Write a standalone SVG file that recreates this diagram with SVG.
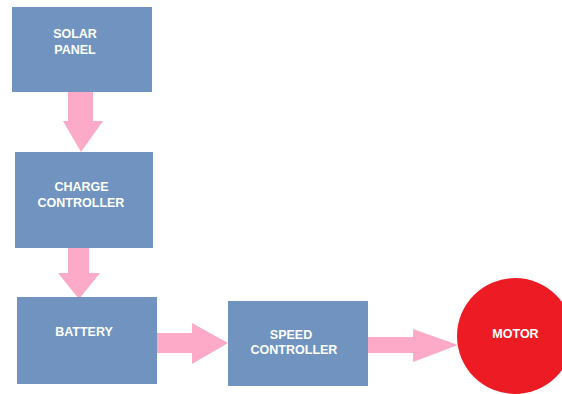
<svg xmlns="http://www.w3.org/2000/svg" width="562" height="394" viewBox="0 0 562 394">
<style>
.box{fill:#7093bf;}
.arr{fill:#fdaac8;}
.t{font-family:"Liberation Sans",Arial,sans-serif;font-weight:bold;font-size:12.5px;fill:#ffffff;text-anchor:middle;}
</style>
<rect width="562" height="394" fill="#ffffff"/>
<g id="connectors">
<polygon class="arr" points="68,92 93,92 93,121 103,121 81,152 63,121 68,121"/>
<polygon class="arr" points="68,248 89,248 89,273 100,273 79,299 58,273 68,273"/>
<polygon class="arr" points="157,333 192,333 192,323 228,343 192,364 192,353 157,353"/>
<polygon class="arr" points="368,337 413,337 413,329 458,345 413,362 413,353 368,353"/>
</g>
<g id="solar-panel">
<rect class="box" x="12" y="7" width="140" height="85"/>
<text class="t" x="75" y="38">SOLAR</text>
<text class="t" x="75" y="54">PANEL</text>
</g>
<g id="charge-controller">
<rect class="box" x="15" y="152" width="138" height="96"/>
<text class="t" x="81.5" y="191">CHARGE</text>
<text class="t" x="81" y="207">CONTROLLER</text>
</g>
<g id="battery">
<rect class="box" x="17" y="297" width="140" height="87"/>
<text class="t" x="84" y="336">BATTERY</text>
</g>
<g id="speed-controller">
<rect class="box" x="228" y="301" width="140" height="85"/>
<text class="t" x="291" y="339">SPEED</text>
<text class="t" x="294" y="354">CONTROLLER</text>
</g>
<g id="motor">
<circle cx="515" cy="336" r="58" fill="#ed1c24"/>
<text class="t" x="515.5" y="338">MOTOR</text>
</g>
</svg>
